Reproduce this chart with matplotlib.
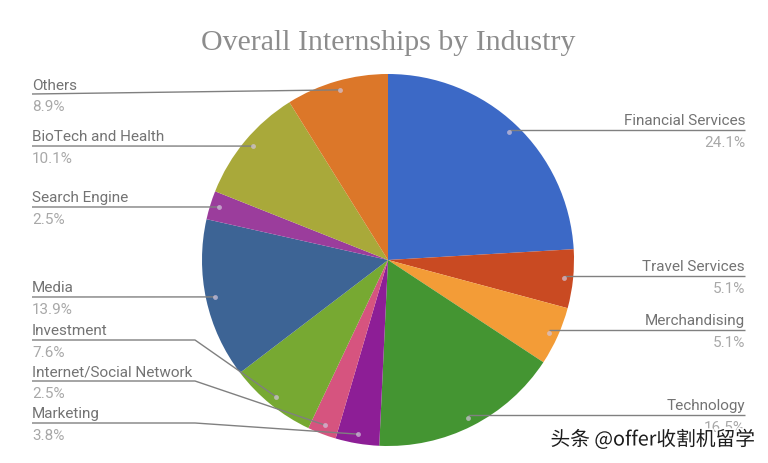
import numpy as np
import matplotlib
matplotlib.use('Agg')
import matplotlib.pyplot as plt
import matplotlib.patheffects as pe

# Данные диаграммы, по часовой стрелке от верхней точки
industries = ['Financial Services', 'Travel Services', 'Merchandising', 'Technology',
              'Marketing', 'Internet/Social Network', 'Investment', 'Media',
              'Search Engine', 'BioTech and Health', 'Others']
shares = [24.1, 5.1, 5.1, 16.5, 3.8, 2.5, 7.6, 13.9, 2.5, 10.1, 8.9]
colors = ['#3c69c6', '#c94a22', '#f39c37', '#449532', '#8d1e96', '#d6547f',
          '#77a932', '#3d6495', '#9b3d9c', '#a9a93a', '#dc7729']

title = 'Overall Internships by Industry'
watermark = '头条 @offer收割机留学'

# Разметка в пикселях: ось совпадает с картинкой
cx, cy, radius = 388, 261, 186
line_y = [131, 277, 331, 416, 424, 382, 341, 298, 208, 147, 95]
left_x, right_x, elbow_x = 32, 745, 195
elbow_labels = ['Marketing', 'Internet/Social Network', 'Investment']

fig = plt.figure(figsize=(7.68, 4.64), dpi=100)
ax = fig.add_axes([0, 0, 1, 1])

wedges, _ = ax.pie(shares, colors=colors, startangle=90, counterclock=False,
                   center=(cx, cy), radius=radius, frame=False,
                   wedgeprops={'linewidth': 0})
ax.set_xlim(0, 768)
ax.set_ylim(464, 0)
ax.set_aspect('equal')
ax.axis('off')
# pie рисует в осях с y вверх, поэтому отражаем клинья вокруг центра
for w in wedges:
    t1, t2 = w.theta1, w.theta2
    w.set_theta1(-t2)
    w.set_theta2(-t1)

ax.text(388.5, 43.5, title, ha='center', va='center', color='#8c8c8c',
        fontsize=21.5, family='Liberation Serif')

angle = 0.0
for name, share, y in zip(industries, shares, line_y):
    # Точка-якорь на биссектрисе сектора
    mid = np.deg2rad(angle + share * 3.6 / 2)
    angle += share * 3.6
    dot_x = cx + 0.95 * radius * np.sin(mid)
    dot_y = cy - 0.95 * radius * np.cos(mid)
    on_right = dot_x > cx and name != 'Marketing'

    if on_right:
        xs, ys = [right_x, dot_x], [y, y]
        tx, ha = right_x, 'right'
    elif name in elbow_labels:
        xs, ys = [left_x, elbow_x, dot_x], [y, y, dot_y]
        tx, ha = left_x, 'left'
    else:
        xs, ys = [left_x, dot_x], [y, dot_y]
        tx, ha = left_x, 'left'

    ax.plot(xs, ys, color='#808080', lw=1.0, solid_capstyle='butt', zorder=5)
    ax.plot([dot_x], [dot_y], 'o', ms=3.5, mfc='#d3c6dc', mec='none', alpha=0.7, zorder=6)
    ax.text(tx, y - 2.5, name, ha=ha, va='bottom', color='#737373',
            fontsize=11, family='Roboto')
    ax.text(tx, y + 5, f'{share}%', ha=ha, va='top', color='#a8a8a8',
            fontsize=11, family='Roboto', zorder=4)

ax.text(755, 441, watermark, ha='right', va='center', color='#1c1c1c',
        fontsize=14.2, family=['Noto Sans CJK SC', 'DejaVu Sans'], zorder=10,
        path_effects=[pe.withStroke(linewidth=2.5, foreground='white')])

fig.savefig('out.png', dpi=100, facecolor='white')
